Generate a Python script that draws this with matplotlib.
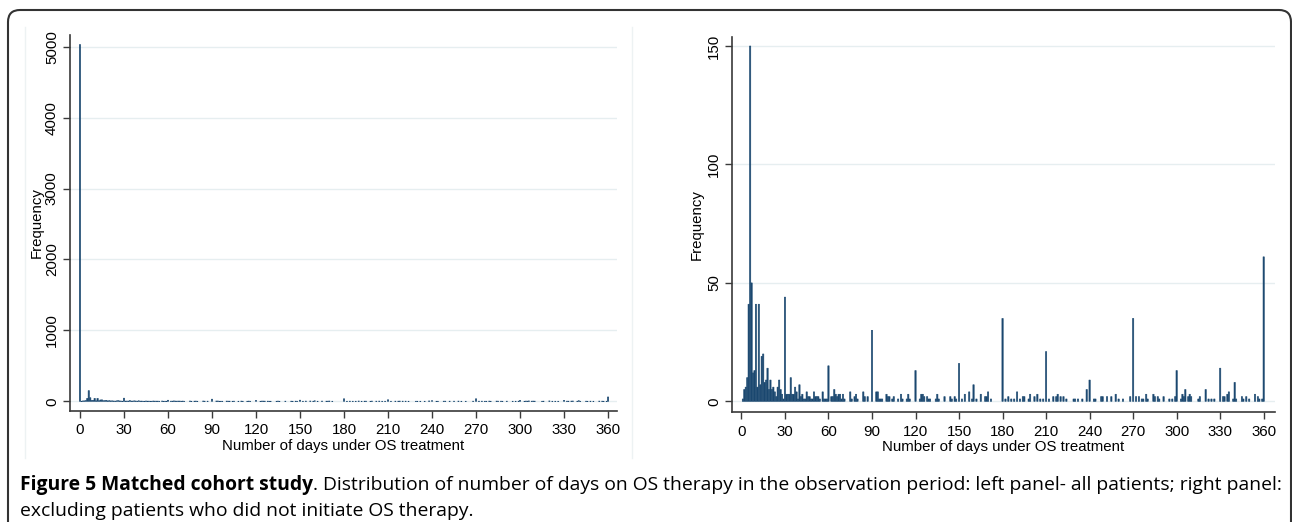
import numpy as np
import matplotlib
matplotlib.use("Agg")
import matplotlib.pyplot as plt
from matplotlib.patches import FancyBboxPatch
from matplotlib.lines import Line2D

# patients who never started OS therapy (day 0, left panel only)
n_zero_days = 5030

# days on OS therapy (1..360) and number of patients
days = [1, 2, 3, 4, 5, 6, 7, 8, 9, 10, 11, 12, 13, 14, 15, 16, 17, 18, 19, 20,
        21, 22, 23, 24, 25, 26, 27, 28, 29, 30, 31, 32, 33, 34, 35, 36, 37, 38, 39, 40,
        41, 42, 43, 44, 45, 46, 47, 48, 49, 50, 51, 52, 53, 54, 56, 57, 58, 59, 60,
        62, 63, 64, 65, 66, 67, 68, 69, 70, 71, 75, 76, 78, 79, 80, 84, 85, 87, 90,
        93, 94, 95, 96, 97, 100, 101, 102, 104, 105, 108, 110, 111, 114, 115, 116, 120,
        123, 124, 125, 126, 128, 129, 130, 134, 135, 136, 140, 144, 145, 147, 148, 150,
        152, 154, 157, 159, 160, 162, 165, 168, 169, 170, 172, 180,
        182, 184, 186, 188, 190, 192, 194, 195, 198, 199, 202, 204, 206, 208, 210,
        212, 215, 217, 218, 220, 222, 224, 229, 230, 232, 235, 238, 240,
        243, 244, 248, 249, 252, 255, 258, 260, 263, 268, 270,
        272, 274, 276, 277, 279, 280, 284, 285, 287, 288, 291, 295, 297, 299, 300,
        303, 304, 305, 306, 308, 309, 310, 315, 316, 320, 322, 324, 326, 330,
        332, 333, 335, 336, 339, 340, 341, 345, 346, 348, 350, 354, 356, 357, 359, 360]
counts = [1, 5, 6, 10, 41, 150, 50, 12, 13, 41, 6, 41, 7, 19, 20, 8, 9, 14, 5, 9,
          5, 6, 4, 2, 6, 9, 5, 3, 1, 44, 3, 3, 3, 10, 3, 3, 6, 4, 1, 7,
          2, 3, 1, 1, 4, 2, 2, 1, 1, 4, 2, 2, 2, 1, 4, 1, 1, 1, 15,
          2, 2, 5, 3, 2, 3, 3, 1, 3, 1, 4, 1, 2, 3, 1, 4, 2, 2, 30,
          4, 4, 1, 1, 1, 3, 2, 2, 1, 2, 1, 3, 1, 1, 3, 1, 13,
          1, 3, 3, 2, 2, 1, 1, 1, 3, 1, 2, 2, 1, 2, 1, 16,
          1, 3, 4, 1, 7, 1, 3, 2, 2, 4, 1, 35,
          1, 2, 1, 1, 4, 1, 2, 2, 1, 3, 2, 3, 1, 1, 21,
          1, 2, 2, 3, 2, 2, 1, 1, 1, 1, 1, 5, 9,
          1, 1, 2, 2, 2, 2, 3, 1, 1, 2, 35,
          2, 2, 1, 1, 3, 1, 3, 2, 2, 1, 2, 1, 1, 2, 13,
          1, 3, 2, 5, 2, 3, 2, 1, 2, 5, 1, 1, 1, 14,
          2, 2, 3, 4, 1, 8, 1, 2, 1, 2, 1, 3, 2, 1, 1, 61]

x_ticks = list(range(0, 361, 30))
left_yticks = [0, 1000, 2000, 3000, 4000, 5000]
right_yticks = [0, 50, 100, 150]
xlabel = "Number of days under OS treatment"
ylabel = "Frequency"
caption_bold = "Figure 5 Matched cohort study"
caption_line1 = (". Distribution of number of days on OS therapy in the observation period: "
                 "left panel- all patients; right panel:")
caption_line2 = "excluding patients who did not initiate OS therapy."

bar_color = "#1a476f"
grid_color = "#e6eef0"
axis_color = "#3a3a3a"

plt.rcParams['font.family'] = ['Liberation Sans', 'DejaVu Sans']

W, H = 1292, 522
fig = plt.figure(figsize=(W / 100, H / 100), dpi=100)


def px_axes(l, t, r, b):
    return fig.add_axes([l / W, 1 - b / H, (r - l) / W, (b - t) / H])


def style(ax, yticks, xlim, ylim, lab_x):
    ax.set_xlim(*xlim)
    ax.set_ylim(*ylim)
    ax.set_xticks(x_ticks)
    ax.set_yticks(yticks)
    for y in yticks:
        ax.axhline(y, color=grid_color, lw=1.0, zorder=0)
    for s in ['top', 'right']:
        ax.spines[s].set_visible(False)
    for s in ['left', 'bottom']:
        ax.spines[s].set_color(axis_color)
        ax.spines[s].set_linewidth(1.2)
    ax.tick_params(direction='out', length=5, width=1, color=axis_color,
                   labelsize=10.8, labelcolor='black')
    ax.tick_params(axis='x', pad=4)
    ax.tick_params(axis='y', pad=3, labelrotation=90)
    for lab in ax.get_yticklabels():
        lab.set_va('center')
    ax.set_xlabel(xlabel, fontsize=10.8, va='center')
    ax.set_ylabel(ylabel, fontsize=10.8, va='center')
    ax.xaxis.set_label_coords(0.5, -0.093)
    ax.yaxis.set_label_coords(lab_x, 0.5)


def draw_bars(ax, x, y):
    bars = ax.bar(x, y, width=0.9, color=bar_color, ec=bar_color, lw=0.4, zorder=2)
    for b in bars:
        b.set_snap(False)


# left panel: all patients
ax1 = px_axes(70, 35, 617, 411)
draw_bars(ax1, [0] + days, [n_zero_days] + counts)
style(ax1, left_yticks, (-6.8, 366.1), (-137, 5165), -0.060)

# right panel: initiators only
ax2 = px_axes(732, 37, 1275, 412)
draw_bars(ax2, days, counts)
style(ax2, right_yticks, (-6.5, 367.8), (-4.5, 153.8), -0.065)

# faint panel frames of the exported graphs
for xp in [25, 632]:
    fig.add_artist(Line2D([xp / W, xp / W], [1 - 27 / H, 1 - 458 / H],
                          color='#edf2f3', lw=1, transform=fig.transFigure))

# rounded outer frame
frame = FancyBboxPatch((0.08, -0.5), 12.83, 5.62,
                       boxstyle="round,pad=0,rounding_size=0.12",
                       transform=fig.dpi_scale_trans, fill=False,
                       ec='#333333', lw=1.5)
fig.add_artist(frame)

# caption, first line fitted to run from x=20 to x=1282
cap_font = ['Open Sans', 'DejaVu Sans']
y1 = 1 - 485 / H
y2 = 1 - 511 / H
fs = 11.0
r = fig.canvas.get_renderer()
probe1 = fig.text(0, 0, caption_bold, fontsize=fs, weight='bold', family=cap_font)
probe2 = fig.text(0, 0, caption_line1, fontsize=fs, family=cap_font)
w_total = probe1.get_window_extent(r).width + probe2.get_window_extent(r).width
probe1.remove()
probe2.remove()
fs = fs * (1282 - 20) / w_total

t1 = fig.text(20 / W, y1, caption_bold, fontsize=fs, weight='bold',
              family=cap_font, va='center')
bb = t1.get_window_extent(r)
fig.text(bb.x1 / W, y1, caption_line1, fontsize=fs, family=cap_font, va='center')
fig.text(20 / W, y2, caption_line2, fontsize=fs, family=cap_font, va='center')

fig.savefig("out.png", dpi=100)
